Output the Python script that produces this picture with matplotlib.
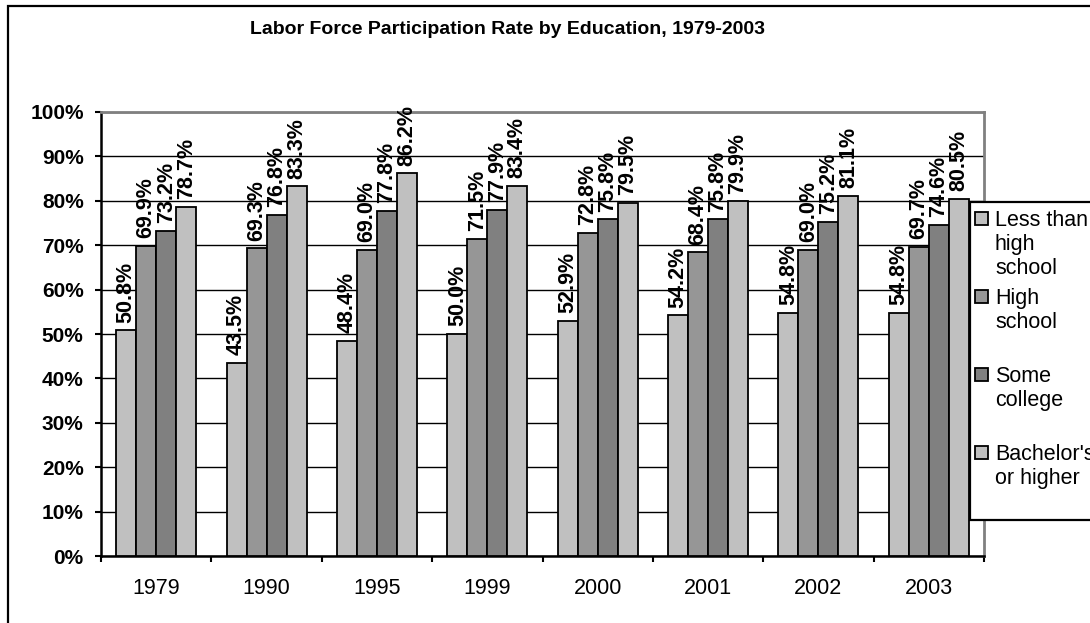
import matplotlib
matplotlib.use("Agg")
import matplotlib.pyplot as plt
from matplotlib.patches import Rectangle
import numpy as np

plt.rcParams['font.family'] = ['Liberation Sans', 'DejaVu Sans']

years = ["1979", "1990", "1995", "1999", "2000", "2001", "2002", "2003"]
series_names = ["Less than\nhigh\nschool", "High\nschool", "Some\ncollege", "Bachelor's\nor higher"]
less_than_hs = [50.8, 43.5, 48.4, 50.0, 52.9, 54.2, 54.8, 54.8]
high_school = [69.9, 69.3, 69.0, 71.5, 72.8, 68.4, 69.0, 69.7]
some_college = [73.2, 76.8, 77.8, 77.9, 75.8, 75.8, 75.2, 74.6]
bachelors = [78.7, 83.3, 86.2, 83.4, 79.5, 79.9, 81.1, 80.5]
colors = ["#C0C0C0", "#969696", "#808080", "#C0C0C0"]

W, H = 1090, 623
fig = plt.figure(figsize=(W / 100, H / 100), dpi=100)
fig.patch.set_facecolor("white")

# plot area in pixel terms
px_l, px_r, px_t, px_b = 101, 984, 112, 556
ax = fig.add_axes([px_l / W, 1 - px_b / H, (px_r - px_l) / W, (px_b - px_t) / H])

all_series = [less_than_hs, high_school, some_college, bachelors]
n = len(years)
centers = np.arange(n) + 0.5
bw = 0.181
offsets = (np.arange(4) - 1.5) * bw

for vals, off, col in zip(all_series, offsets, colors):
    bars = ax.bar(centers + off, vals, width=bw, color=col, edgecolor="black",
                  linewidth=1.3, zorder=3)
    for b, v in zip(bars, vals):
        ax.annotate(f"{v:.1f}%", (b.get_x() + b.get_width() / 2, v),
                    xytext=(0, 5.5), textcoords="offset points",
                    rotation=90, ha="center", va="bottom",
                    fontsize=15.5, fontweight="bold", zorder=4)

ax.set_xlim(0, n)
ax.set_ylim(0, 100)

# gridlines
ax.set_yticks(np.arange(0, 101, 10))
ax.set_yticklabels([f"{v}%" for v in range(0, 101, 10)], fontsize=15, fontweight="bold")
ax.yaxis.grid(True, color="black", linewidth=1.0, zorder=0)
ax.set_axisbelow(True)

# category boundaries carry tick marks, centers carry labels
ax.set_xticks(np.arange(0, n + 1))
ax.set_xticklabels([""] * (n + 1))
ax.set_xticks(centers, minor=True)
ax.set_xticklabels(years, minor=True, fontsize=15.5)
ax.tick_params(axis="x", which="major", direction="out", length=4.5, width=1.5)
ax.tick_params(axis="x", which="minor", length=0, pad=16)
ax.tick_params(axis="y", direction="out", length=4.5, width=1.5, pad=8)

for side in ("left", "bottom"):
    ax.spines[side].set_color("black")
    ax.spines[side].set_linewidth(1.8)
for side in ("top", "right"):
    ax.spines[side].set_color("#808080")
    ax.spines[side].set_linewidth(2.0)

# title
fig.text(507 / W, 1 - 30 / H, "Labor Force Participation Rate by Education, 1979-2003",
         ha="center", va="center", fontsize=14, fontweight="bold")

# outer chart border (runs past the right and bottom edges)
fig.patches.append(Rectangle((7.5 / W, -0.1), 1.2, 1 - 6.5 / H + 0.1,
                             transform=fig.transFigure, fill=False,
                             edgecolor="black", linewidth=1.6, zorder=5))

# legend box
lg_l, lg_t, lg_b = 970, 202, 520
fig.patches.append(Rectangle((lg_l / W, 1 - lg_b / H), 0.2, (lg_b - lg_t) / H,
                             transform=fig.transFigure, facecolor="white",
                             edgecolor="black", linewidth=1.6, zorder=5))
sq = 13
for i, (name, col) in enumerate(zip(series_names, colors)):
    top = 212 + i * 78
    fig.patches.append(Rectangle((975 / W, 1 - (top + sq) / H), sq / W, sq / H,
                                 transform=fig.transFigure, facecolor=col,
                                 edgecolor="black", linewidth=1.3, zorder=6))
    fig.text(995 / W, 1 - (top - 2) / H, name, ha="left", va="top",
             fontsize=15.5, linespacing=1.18, zorder=6)

fig.savefig("out.png", dpi=100)
